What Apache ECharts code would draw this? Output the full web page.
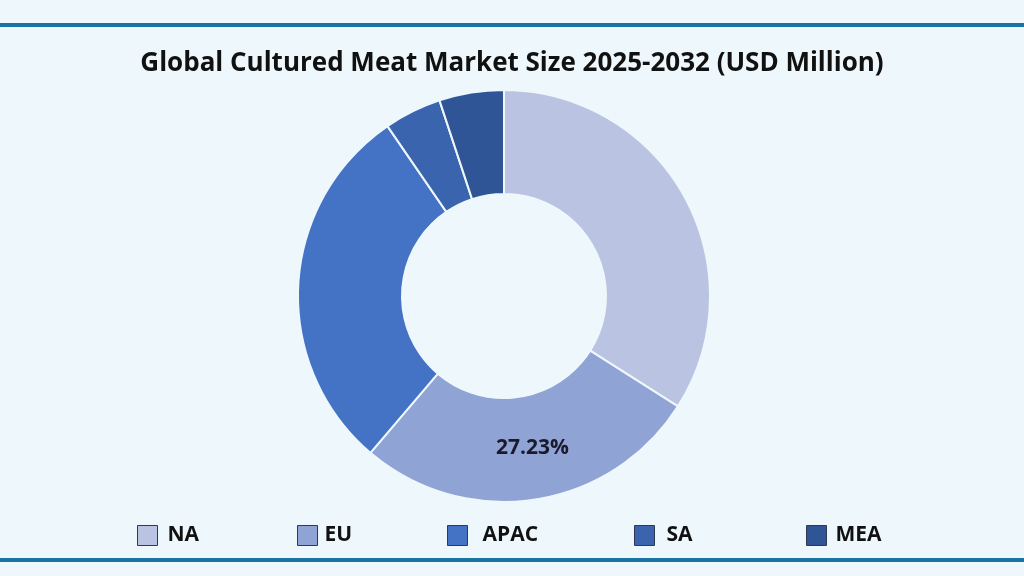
<!DOCTYPE html>
<html>
<head>
<meta charset="utf-8">
<script src="https://cdn.jsdelivr.net/npm/echarts@6/dist/echarts.min.js"></script>
<style>
html,body{margin:0;padding:0;background:#EEF8FC;}
#c{width:1024px;height:576px;}
</style>
</head>
<body>
<div id="c"></div>
<script>
const titleText = 'Global Cultured Meat Market Size 2025-2032 (USD Million)';
const regions = ['NA', 'EU', 'APAC', 'SA', 'MEA'];
const shares = [34.0, 27.23, 29.2, 4.5, 5.07];
const colors = ['#BAC3E2', '#8FA3D5', '#4472C4', '#3B64AF', '#2F5597'];
const labelled = ['EU'];

const legendLeft = [137, 297, 447, 634, 806];
const legendTextPad = [5, 2, 10, 7, 4];

const chart = echarts.init(document.getElementById('c'));
const legends = regions.map((r, i) => ({
  data: [r],
  left: legendLeft[i],
  top: 525,
  padding: 0,
  itemWidth: 20,
  itemHeight: 20,
  icon: 'rect',
  itemStyle: {borderColor: '#2E3A55', borderWidth: 1},
  textStyle: {fontFamily: 'Open Sans', fontWeight: 'bold', fontSize: 21, color: '#111', padding: [0, 0, 0, legendTextPad[i]]},
  selectedMode: false
}));
chart.setOption({
  backgroundColor: '#EEF8FC',
  title: {
    text: titleText,
    left: 'center',
    top: 51,
    padding: 0,
    textStyle: {fontFamily: 'Open Sans', fontWeight: 'bold', fontSize: 26, color: '#111'}
  },
  legend: legends,
  graphic: [
    {type: 'rect', shape: {x: 0, y: 23, width: 1024, height: 4}, style: {fill: '#1A74A3'}},
    {type: 'rect', shape: {x: 0, y: 558, width: 1024, height: 4}, style: {fill: '#1A74A3'}}
  ],
  series: [{
    type: 'pie',
    center: [504, 296],
    radius: [102, 206],
    startAngle: 90,
    clockwise: true,
    avoidLabelOverlap: false,
    label: {show: false},
    labelLine: {show: false},
    itemStyle: {borderColor: '#EEF8FC', borderWidth: 2},
    data: regions.map((r, i) => ({
      name: r,
      value: shares[i],
      itemStyle: {color: colors[i]},
      label: labelled.includes(r) ? {
        show: true, position: 'inside',
        formatter: p => p.value.toFixed(2) + '%',
        offset: [5, -3],
        fontFamily: 'Open Sans', fontWeight: 'bold', fontSize: 21, color: '#1A1A2A'
      } : {show: false}
    }))
  }]
});
</script>
</body>
</html>
